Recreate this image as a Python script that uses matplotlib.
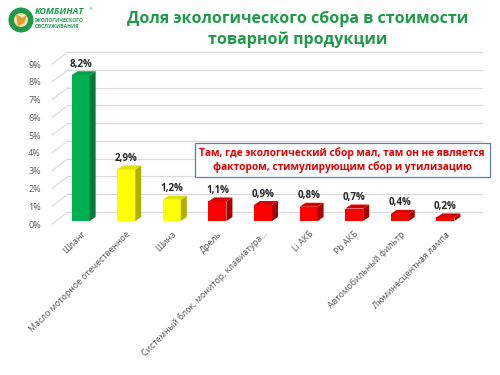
import matplotlib

matplotlib.use('Agg')
import numpy as np
import matplotlib.pyplot as plt
from matplotlib.patches import Polygon, Circle, FancyBboxPatch

plt.rcParams['font.family'] = ['Open Sans', 'DejaVu Sans']

categories = ['Шланг', 'Масло моторное отечественное', 'Шина', 'Дрель',
              'Системный блок, монитор, клавиатура...', 'Li АКБ', 'Pb АКБ',
              'Автомобильный фильтр', 'Люминесцентная лампа']
values = [8.2, 2.9, 1.2, 1.1, 0.9, 0.8, 0.7, 0.4, 0.2]
value_labels = ['8,2%', '2,9%', '1,2%', '1,1%', '0,9%', '0,8%', '0,7%', '0,4%', '0,2%']
groups = ['green', 'yellow', 'yellow', 'red', 'red', 'red', 'red', 'red', 'red']
yticks = list(range(10))

title = 'Доля экологического сбора в стоимости\nтоварной продукции'
note = 'Там, где экологический сбор мал, там он не является\nфактором, стимулирующим сбор и утилизацию'

COLORS = {
    'green': ('#00B050', '#00A048', '#007A3A'),
    'yellow': ('#FFFF00', '#E0E000', '#B0B000'),
    'red': ('#FF0000', '#D80000', '#A80000'),
}

W, H = 500, 375
fig = plt.figure(figsize=(5, 3.75), dpi=100)
fig.patch.set_facecolor('white')

# front plane of the 3d chart in pixels
left_px, right_px, bot_px, top_px = 52, 466, 224, 64
ax = fig.add_axes([left_px / W, (H - bot_px) / H, (right_px - left_px) / W, (bot_px - top_px) / H])
x0, x1 = -0.54, 8.54
ax.set_xlim(x0, x1)
ax.set_ylim(0, 9)
ppx = (right_px - left_px) / (x1 - x0)
ppy = (bot_px - top_px) / 9.0

for s in ax.spines.values():
    s.set_visible(False)

# back wall grid + side diagonals
gx, gy = 16 / ppx, 12 / ppy
for t in yticks:
    ax.plot([x0 + gx, x1 + gx], [t + gy, t + gy], color='#D9D9D9', lw=0.8, clip_on=False, zorder=1)
    ax.plot([x0, x0 + gx], [t, t + gy], color='#D9D9D9', lw=0.8, clip_on=False, zorder=1)

# 3d bars
bx, by = 4 / ppx, 3 / ppy
bw = 18 / ppx
dx, dy = 6 / ppx, 4 / ppy
xs = np.arange(len(values))
for i, (v, g) in enumerate(zip(values, groups)):
    front, top, side = COLORS[g]
    l = xs[i] + bx - bw / 2
    r = l + bw
    b = by
    t = by + v
    ax.add_patch(Polygon([(l, b), (r, b), (r, t), (l, t)], closed=True, fc=front, ec='none', zorder=3, clip_on=False))
    ax.add_patch(Polygon([(r, b), (r + dx, b + dy), (r + dx, t + dy), (r, t)], closed=True, fc=side, ec='none', zorder=3, clip_on=False))
    ax.add_patch(Polygon([(l, t), (r, t), (r + dx, t + dy), (l + dx, t + dy)], closed=True, fc=top, ec='none', zorder=3, clip_on=False))
    ax.annotate(value_labels[i], (xs[i] + bx, t + dy), xytext=(0, 1), textcoords='offset points',
                ha='center', va='bottom', fontsize=7, fontweight='bold', color='#262626', zorder=4)

ax.set_yticks(yticks)
ax.set_yticklabels(['%d%%' % t for t in yticks], fontsize=6.5, color='#595959')
ax.tick_params(axis='y', length=0, pad=8)
ax.set_xticks(xs + bx)
ax.set_xticklabels(categories, rotation=45, ha='right', va='top', rotation_mode='anchor',
                   fontsize=6.3, color='#595959')
ax.tick_params(axis='x', length=0, pad=4)
ax.set_facecolor('none')

# title
fig.text(298 / W, 1 - 29 / H, title, ha='center', va='center', fontsize=11.5, fontweight='bold',
         color='#1E9A48', linespacing=1.35)

# logo
lax = fig.add_axes([0, 1 - 40 / H, 100 / W, 40 / H])
lax.set_xlim(0, 100)
lax.set_ylim(40, 0)
lax.axis('off')
lax.add_patch(Circle((21, 20), 12.5, fc='#1E9A48', ec='none'))
lax.add_patch(Circle((21, 20), 7, fc='#F2E3B0', ec='none'))
lax.add_patch(Polygon([(16, 14), (22, 18), (27, 15), (24, 23), (18, 26)], closed=True, fc='#E39A2D', ec='none'))
lax.text(35, 12, 'КОМБИНАТ', fontsize=6.6, fontweight='bold', style='italic', color='#1E9A48', va='center')
lax.text(89, 9, '®', fontsize=3, color='#1E9A48', va='center')
lax.text(35, 20, 'ЭКОЛОГИЧЕСКОГО', fontsize=3.6, fontweight='bold', color='#1E9A48', va='center')
lax.text(35, 26, 'ОБСЛУЖИВАНИЯ', fontsize=3.6, fontweight='bold', color='#1E9A48', va='center')

# note box
fig.patches.append(FancyBboxPatch((195 / W, 1 - 177 / H), 295 / W, 34 / H, boxstyle='square,pad=0',
                                  transform=fig.transFigure, fc='white', ec='#5B7DB1', lw=0.9, zorder=5))
fig.text(342 / W, 1 - 160 / H, note, ha='center', va='center', fontsize=7.3, fontweight='bold',
         color='#E00000', linespacing=1.3, zorder=6)

fig.savefig('out.png', dpi=100)
